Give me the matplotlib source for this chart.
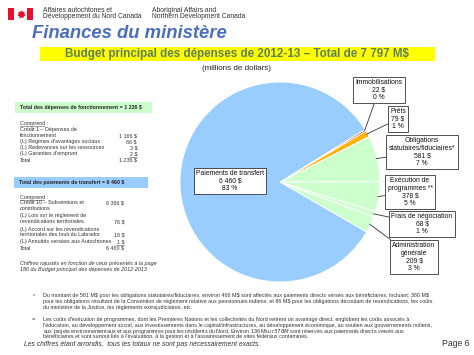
import matplotlib
matplotlib.use("Agg")
import matplotlib.pyplot as plt
from matplotlib.patches import Rectangle
from matplotlib.lines import Line2D
import numpy as np

plt.rcParams['font.family'] = ['Liberation Sans', 'DejaVu Sans']

# donnees du graphique (millions de dollars)
slice_labels = ['Administration\ngénérale', 'Frais de négociation', 'Exécution de\nprogrammes **',
                'Obligations\nstatutaires/fiduciaires*', 'Prêts', 'Immobilisations',
                'Paiements de transfert']
slice_values = [209, 68, 378, 581, 79, 22, 6460]
slice_pcts = [3, 1, 5, 7, 1, 0, 83]
slice_colors = ['#CCFFCC', '#CCFFCC', '#CCFFCC', '#CCFFCC', '#FFB000', '#CC1010', '#99CCFF']

oper_items = ['Crédit 1 – Dépenses de\nfonctionnement', "(L) Régimes d'avantages sociaux",
              '(L) Redevances sur les ressources', "(L) Garanties d'emprunt"]
oper_values = [1166, 66, 3, 2]
oper_total = 1236

transfer_items = ['Crédit 10 – Subventions et\ncontributions', '(L) Lois sur le règlement de\nrevendications territoriales',
                  '(L) Accord sur les revendications\nterritoriales des Inuit du Labrador',
                  '(L) Annuités versées aux Autochtones']
transfer_values = [6366, 76, 18, 1]
transfer_total = 6460

note1 = ["Du montant de 581 M$ pour les obligations statutaires/fiduciaires, environ 466 M$ sont affectés aux paiements directs versés aux bénéficiaires, incluant: 380 M$",
         "pour les obligations résultant de la Convention de règlement relative aux pensionnats indiens, et 86 M$ pour les obligations découlant de revendications, les coûts",
         "du ministère de la Justice, les règlements extrajudiciaires, etc."]
note2 = ["Les coûts d'exécution de programmes, dont les Premières Nations et les collectivités du Nord retirent un avantage direct, englobent les coûts associés à",
         "l'éducation, au développement social, aux investissements dans le capital/infrastructures, au développement économique, au soutien aux gouvernements indiens,",
         "aux projets environnementaux et aux programmes pour les résidents du Nord. Environ 136 M$ sur 378 M$ sont réservés aux paiements directs versés aux",
         "bénéficiaires et sont surtout liés à l'évaluation, à la gestion et à l'assainissement de sites fédéraux contaminés."]

W, H = 474, 355
fig = plt.figure(figsize=(W / 100, H / 100), dpi=100)
fig.patch.set_facecolor('white')


def fx(x):
    return x / W


def fy(y):
    return 1 - y / H


def txt(x, y, s, **kw):
    kw.setdefault('va', 'center')
    return fig.text(fx(x), fy(y), s, **kw)


def money(v):
    return f"{v:,}".replace(',', ' ') + ' $'


def hline(x0, x1, y, lw=0.4, color='#555555'):
    fig.add_artist(Line2D([fx(x0), fx(x1)], [fy(y), fy(y)], lw=lw, color=color))


# en-tete : drapeau
fig.add_artist(Rectangle((fx(8), fy(20)), fx(6), 12 / H, color='#E8112D', lw=0))
fig.add_artist(Rectangle((fx(27), fy(20)), fx(6), 12 / H, color='#E8112D', lw=0))
fig.add_artist(Line2D([fx(20.5)], [fy(14)], marker=(7, 1, 0), ms=5, color='#E8112D'))

txt(43, 10, 'Affaires autochtones et', fontsize=4.9, color='#333333', ha='left')
txt(43, 17, 'Développement du Nord Canada', fontsize=4.9, color='#333333', ha='left')
txt(152, 10, 'Aboriginal Affairs and', fontsize=4.9, color='#333333', ha='left')
txt(152, 17, 'Northern Development Canada', fontsize=4.9, color='#333333', ha='left')

txt(32, 34, 'Finances du ministère', fontsize=13.3, fontweight='bold', fontstyle='italic',
    color='#4A6EC2', ha='left')

fig.add_artist(Rectangle((fx(40), fy(61)), fx(395), 14 / H, color='#FFFF00', lw=0))
txt(237, 54, 'Budget principal des dépenses de 2012-13 – Total de 7 797 M$', fontsize=8.4,
    fontweight='bold', color='#5E7E5E', ha='center')
txt(237, 69, '(millions de dollars)', fontsize=5.8, color='#222222', ha='center')

# graphique circulaire
ax = fig.add_axes([fx(180), fy(282), 200 / W, 200 / H])
wedges, _ = ax.pie(slice_values, colors=slice_colors, startangle=-30, counterclock=True,
                   wedgeprops=dict(edgecolor='white', linewidth=0.7))
ax.set_xlim(-1, 1)
ax.set_ylim(-1, 1)
ax.set_aspect('equal')
ax.axis('off')

# positions des etiquettes (pixels de la figure, centre de la boite)
label_pos = [(414, 257), (422, 224), (410, 192), (422, 152), (398, 119), (379, 90), (230, 181)]
box = dict(boxstyle='square,pad=0.35', fc='white', ec='#333333', lw=0.6)
for w, lab, v, p, pos in zip(wedges, slice_labels, slice_values, slice_pcts, label_pos):
    s = f"{lab}\n{money(v)}\n{p} %"
    xy_t = (pos[0], H - pos[1])
    if lab.startswith('Paiements'):
        ax.annotate(s, xy=(0, 0), xytext=xy_t, textcoords='figure pixels', ha='center',
                    va='center', fontsize=4.9, linespacing=1.1, bbox=box, color='#111111')
        continue
    ang = np.deg2rad((w.theta1 + w.theta2) / 2)
    ax.annotate(s, xy=(0.99 * np.cos(ang), 0.99 * np.sin(ang)), xytext=xy_t,
                textcoords='figure pixels', ha='center', va='center', fontsize=4.9,
                linespacing=1.1, bbox=box, color='#111111',
                arrowprops=dict(arrowstyle='-', color='#333333', lw=0.6, shrinkA=0, shrinkB=0))

# panneau de gauche : depenses de fonctionnement
fs = 3.9
col = '#333333'
fig.add_artist(Rectangle((fx(15), fy(113)), fx(137), 11 / H, color='#CCFFCC', lw=0))
txt(20, 107.5, f'Total des dépenses de fonctionnement = {money(oper_total)}', fontsize=3.8,
    fontweight='bold', color='#222222', ha='left')
txt(20, 123, 'Comprend :', fontsize=fs, color=col, ha='left')
hline(20, 44, 125.8)
oper_y = [130, 142, 148, 154]
for item, v, y in zip(oper_items, oper_values, oper_y):
    n = item.count('\n')
    txt(20, y + 3 * n, item, fontsize=fs, color=col, ha='left', linespacing=1.25)
    txt(137, y + 6 * n, money(v), fontsize=fs, color=col, ha='right')
hline(129, 137, 156.5)
txt(20, 160, 'Total', fontsize=fs, color=col, ha='left')
txt(137, 160, money(oper_total), fontsize=fs, color=col, ha='right')

# paiements de transfert
fig.add_artist(Rectangle((fx(14), fy(188)), fx(134), 11 / H, color='#99CCFF', lw=0))
txt(19, 182.5, f'Total des paiements de transfert = {money(transfer_total)}', fontsize=3.8,
    fontweight='bold', color='#222222', ha='left')
txt(20, 197, 'Comprend :', fontsize=fs, color=col, ha='left')
hline(20, 44, 199.8)
transfer_y = [203, 216, 229, 242]
value_line = [0, 1, 1, 0]
for item, v, y, k in zip(transfer_items, transfer_values, transfer_y, value_line):
    n = item.count('\n')
    txt(20, y + 3 * n, item, fontsize=fs, color=col, ha='left', linespacing=1.25)
    txt(124, y + 6 * k, money(v), fontsize=fs, color=col, ha='right')
hline(116, 124, 244.5)
txt(20, 248, 'Total', fontsize=fs, color=col, ha='left')
txt(124, 248, money(transfer_total), fontsize=fs, color=col, ha='right')

txt(20, 264, 'Chiffres rajustés en fonction de ceux présentés à la page', fontsize=fs,
    fontstyle='italic', color=col, ha='left')
txt(20, 270, '186 du Budget principal des dépenses de 2012-2013', fontsize=fs,
    fontstyle='italic', color=col, ha='left')

# notes de bas de page
nfs = 3.85
txt(33, 296, '*', fontsize=nfs, color=col, ha='left')
for i, line in enumerate(note1):
    txt(43, 296 + 6 * i, line, fontsize=nfs, color=col, ha='left')
txt(32, 320, '**', fontsize=nfs, color=col, ha='left')
for i, line in enumerate(note2):
    txt(43, 320 + 5.6 * i, line, fontsize=nfs, color=col, ha='left')

txt(24, 345, 'Les chiffres étant arrondis,  tous les totaux ne sont pas nécessairement exacts.',
    fontsize=4.85, fontstyle='italic', color=col, ha='left')
txt(470, 344, 'Page 6', fontsize=6.2, color='#333333', ha='right')

fig.savefig('out.png', dpi=100)
